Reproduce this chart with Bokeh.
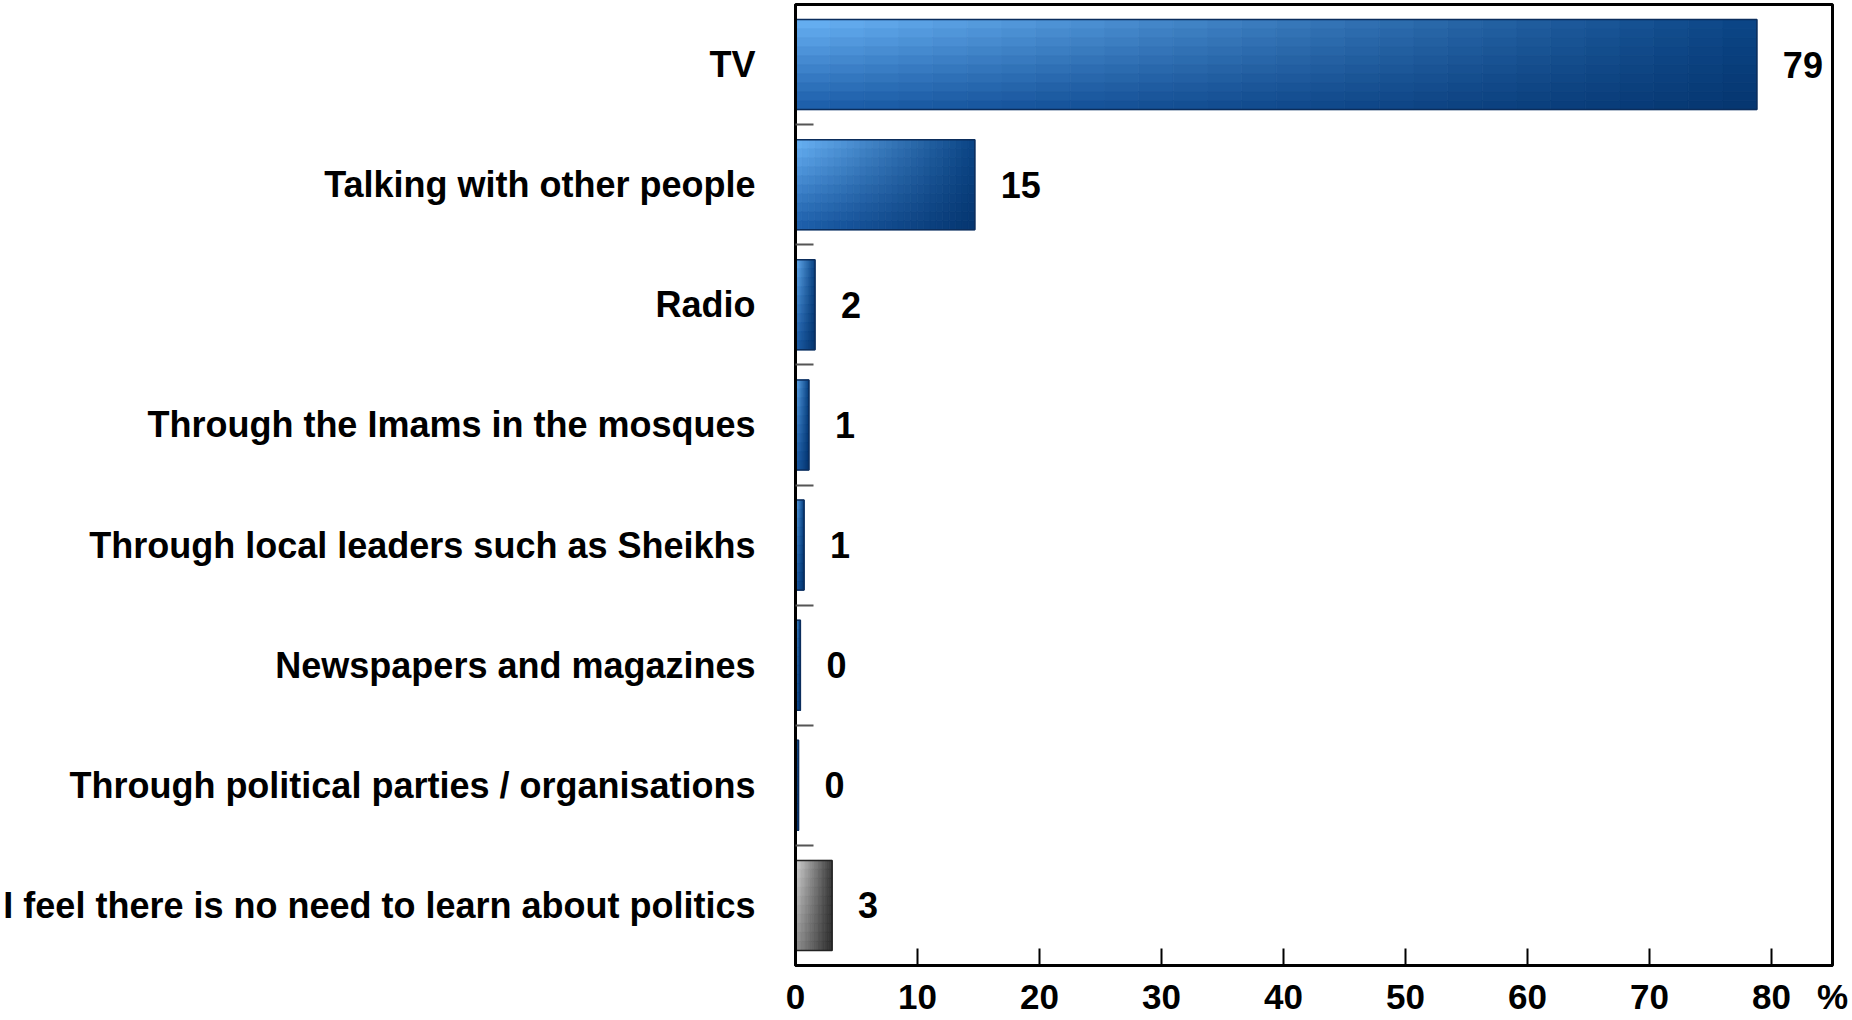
import numpy as np
from bokeh.plotting import figure
from bokeh.models import ColumnDataSource, FixedTicker, Range1d
from bokeh.core.properties import value
from bokeh.embed import file_html
from bokeh.resources import INLINE

# ---- data ----
categories = [
    "TV",
    "Talking with other people",
    "Radio",
    "Through the Imams in the mosques",
    "Through local leaders such as Sheikhs",
    "Newspapers and magazines",
    "Through political parties / organisations",
    "I feel there is no need to learn about politics",
]
values = [78.8, 14.7, 1.6, 1.1, 0.7, 0.4, 0.25, 3.0]
value_labels = ["79", "15", "2", "1", "1", "0", "0", "3"]
x_ticks = [0, 10, 20, 30, 40, 50, 60, 70, 80]
unit_label = "%"

FONT = "Liberation Sans"

n = len(categories)
ypos = [i + 0.5 for i in range(n)]
bar_h = 0.75

p = figure(
    width=1850, height=1018,
    x_range=Range1d(0, 85), y_range=Range1d(n, 0),
    output_backend="svg", toolbar_location=None,
    min_border_top=4, min_border_right=18, min_border_left=0, min_border_bottom=52,
)
p.grid.visible = False
p.outline_line_color = "black"
p.outline_line_width = 3
p.background_fill_color = "white"
p.border_fill_color = "white"

# ---- gradient-styled bars (slices derived from the values) ----
def hex2rgb(h):
    h = h.lstrip("#")
    return np.array([int(h[i:i + 2], 16) for i in (0, 2, 4)], dtype=float)

blue = [hex2rgb(c) for c in ("#6ab3f6", "#0a4485", "#1a5ca8", "#05356f")]
gray = [hex2rgb(c) for c in ("#d4d4d4", "#3a3a3a", "#8e8e8e", "#2c2c2c")]

NX, NY = 28, 10
L, R, T, B, C = [], [], [], [], []
for i, v in enumerate(values):
    tl, tr, bl, br = gray if i == n - 1 else blue
    y0 = ypos[i] - bar_h / 2
    for a in range(NX):
        u = (a + 0.5) / NX
        for b in range(NY):
            w = (b + 0.5) / NY
            col = (1 - u) * (1 - w) * tl + u * (1 - w) * tr + (1 - u) * w * bl + u * w * br
            L.append(v * a / NX)
            R.append(v * (a + 1) / NX)
            T.append(y0 + bar_h * b / NY)
            B.append(y0 + bar_h * (b + 1) / NY)
            C.append("#%02x%02x%02x" % tuple(int(round(c)) for c in col))

cells = ColumnDataSource(dict(left=L, right=R, top=T, bottom=B, color=C))
p.quad(left="left", right="right", top="top", bottom="bottom", source=cells,
       fill_color="color", line_color="color", line_width=0.8)

src = ColumnDataSource(dict(
    y=ypos, v=values, lab=value_labels,
    lc=["#0b2d5c"] * (n - 1) + ["#222222"],
))
p.hbar(y="y", right="v", left=0, height=bar_h, source=src,
       fill_color=None, line_color="lc", line_width=1.5)

p.text(x="v", y="y", text="lab", source=src, x_offset=26,
       text_align="left", text_baseline="middle",
       text_font=value(FONT), text_font_style="bold", text_font_size="36px",
       text_color="black")

# ---- x axis ----
xa = p.xaxis[0]
xa.ticker = FixedTicker(ticks=x_ticks)
xa.axis_line_width = 3
xa.axis_line_color = "black"
xa.major_tick_in = 17
xa.major_tick_out = 0
xa.major_tick_line_width = 2
xa.major_tick_line_color = "black"
xa.minor_tick_line_color = None
xa.major_label_standoff = 19
xa.major_label_text_font = FONT
xa.major_label_text_font_style = "bold"
xa.major_label_text_font_size = "35px"
xa.major_label_text_color = "black"
# unit "%" shown at the right end of the tick-label row
xa.axis_label = unit_label
xa.axis_label_text_font = FONT
xa.axis_label_text_font_style = "bold"
xa.axis_label_text_font_size = "35px"
xa.axis_label_text_color = "black"
xa.axis_label_standoff = -35
try:
    xa.axis_label_align = "end"
except Exception:
    pass

# ---- y axis ----
ya = p.yaxis[0]
ya.ticker = FixedTicker(ticks=ypos, minor_ticks=list(range(1, n)))
ya.major_label_overrides = {yv: c for yv, c in zip(ypos, categories)}
ya.axis_line_width = 3
ya.axis_line_color = "black"
ya.major_tick_in = 0
ya.major_tick_out = 0
ya.minor_tick_in = 18
ya.minor_tick_out = 0
ya.minor_tick_line_color = "#555555"
ya.minor_tick_line_width = 2
ya.major_label_standoff = 40
ya.major_label_text_font = FONT
ya.major_label_text_font_style = "bold"
ya.major_label_text_font_size = "36px"
ya.major_label_text_color = "black"

open("out.html", "w").write(file_html(p, INLINE))
